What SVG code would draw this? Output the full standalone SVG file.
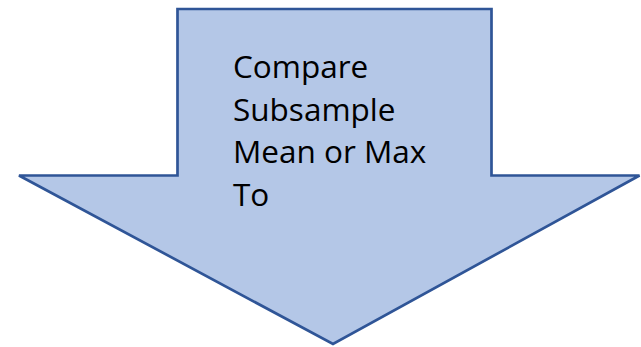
<svg xmlns="http://www.w3.org/2000/svg" width="641" height="347" viewBox="0 0 641 347">
  <style>
    .arrow { fill: #B4C7E7; stroke: #2F5597; stroke-width: 2.7; stroke-linejoin: miter; }
    .label { font-family: "Open Sans", "Liberation Sans", sans-serif; font-size: 31.5px; fill: #000000; }
  </style>
  <rect width="641" height="347" fill="#FFFFFF"/>
  <g id="down-arrow">
    <polygon class="arrow" points="177.5,9 491.5,9 491.5,175.5 639.5,175.5 333,344 19,175.5 177.5,175.5"/>
    <text class="label" x="233" y="78">Compare</text>
    <text class="label" x="233" y="120.5">Subsample</text>
    <text class="label" x="233" y="163">Mean or Max</text>
    <text class="label" x="233" y="205.5">To</text>
  </g>
  <g id="connectors"/>
</svg>
